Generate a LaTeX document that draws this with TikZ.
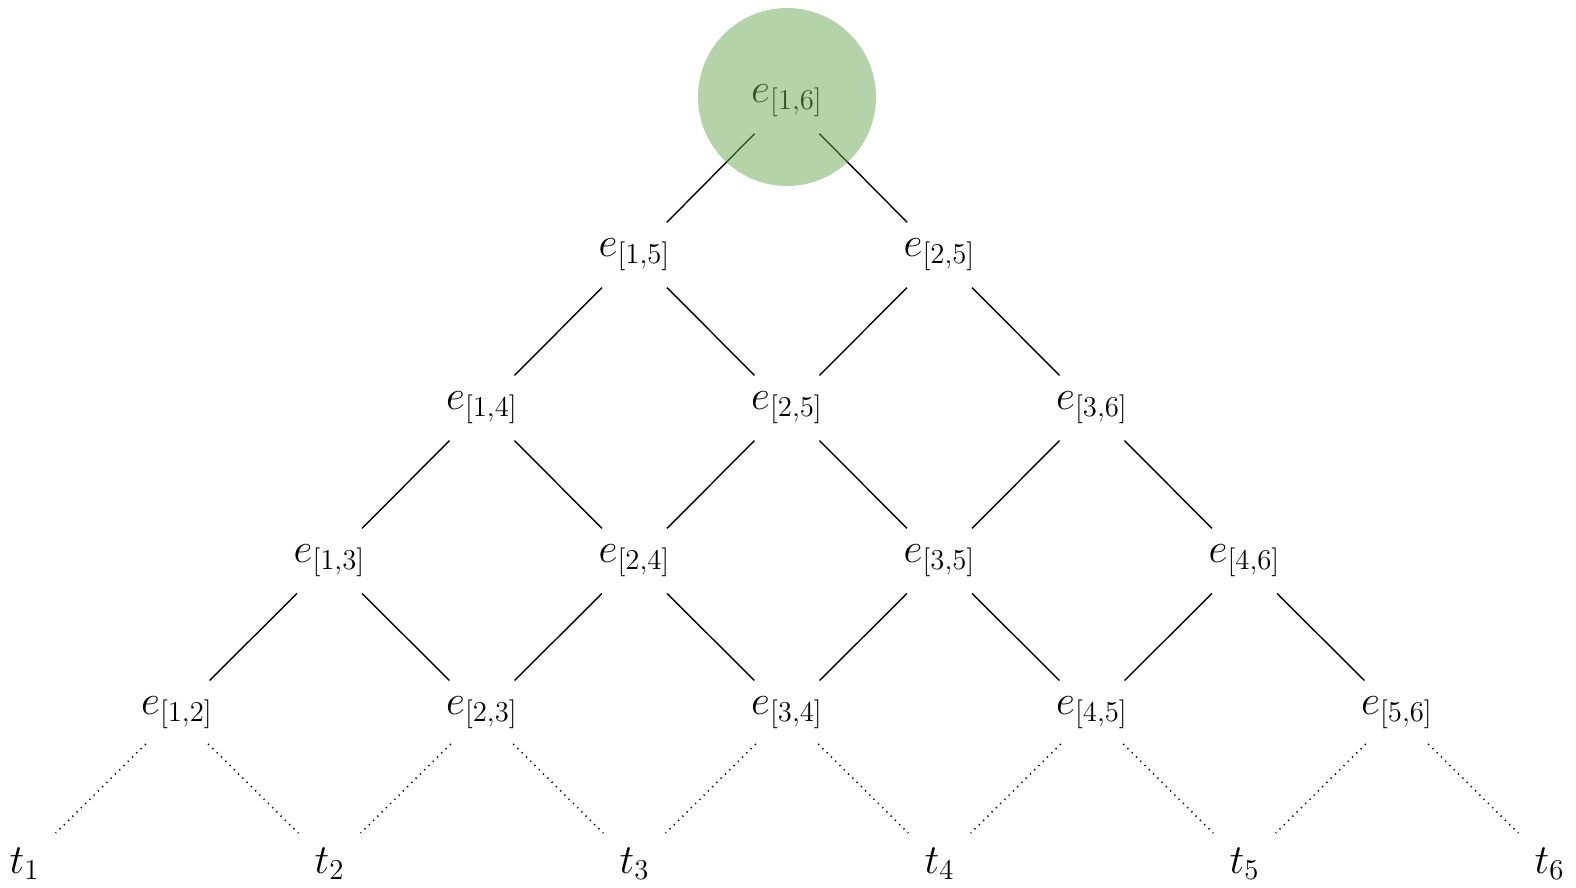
\documentclass[tikz,border=0pt]{standalone}
\begin{document}
\begin{tikzpicture}[x=0.5pt,y=-0.5pt,
  lbl/.style={inner sep=0pt, font=\fontsize{20}{24}\selectfont},
  edge/.style={draw=black, line width=0.7pt, shorten >=23pt, shorten <=23pt},
  leaf/.style={draw=black, line width=0.8pt, dash pattern=on 0.6pt off 2.4pt, shorten >=22pt, shorten <=22pt},
  topcirc/.style={fill={rgb,255:red,105;green,168;blue,82}, fill opacity=0.5, draw=none}]
\useasboundingbox (0,0) rectangle (1576,888);
% row 0
\node[lbl] (e16) at (787,101) {$e_{[1,6]}$};
% row 1
\node[lbl] (e15) at (634.5,255) {$e_{[1,5]}$};
\node[lbl] (e25a) at (939.5,255) {$e_{[2,5]}$};
% row 2
\node[lbl] (e14) at (482,408) {$e_{[1,4]}$};
\node[lbl] (e25) at (787,408) {$e_{[2,5]}$};
\node[lbl] (e36) at (1092,408) {$e_{[3,6]}$};
% row 3
\node[lbl] (e13) at (329.5,561) {$e_{[1,3]}$};
\node[lbl] (e24) at (634.5,561) {$e_{[2,4]}$};
\node[lbl] (e35) at (939.5,561) {$e_{[3,5]}$};
\node[lbl] (e46) at (1244.5,561) {$e_{[4,6]}$};
% row 4
\node[lbl] (e12) at (177,713) {$e_{[1,2]}$};
\node[lbl] (e23) at (482,713) {$e_{[2,3]}$};
\node[lbl] (e34) at (787,713) {$e_{[3,4]}$};
\node[lbl] (e45) at (1092,713) {$e_{[4,5]}$};
\node[lbl] (e56) at (1397,713) {$e_{[5,6]}$};
% leaves
\node[lbl] (t1) at (24.5,864) {$t_1$};
\node[lbl] (t2) at (329.5,864) {$t_2$};
\node[lbl] (t3) at (634.5,864) {$t_3$};
\node[lbl] (t4) at (939.5,864) {$t_4$};
\node[lbl] (t5) at (1244.5,864) {$t_5$};
\node[lbl] (t6) at (1549.5,864) {$t_6$};
% solid edges
\draw[edge] (e16.center) -- (e15.center);
\draw[edge] (e16.center) -- (e25a.center);
\draw[edge] (e15.center) -- (e14.center);
\draw[edge] (e15.center) -- (e25.center);
\draw[edge] (e25a.center) -- (e25.center);
\draw[edge] (e25a.center) -- (e36.center);
\draw[edge] (e14.center) -- (e13.center);
\draw[edge] (e14.center) -- (e24.center);
\draw[edge] (e25.center) -- (e24.center);
\draw[edge] (e25.center) -- (e35.center);
\draw[edge] (e36.center) -- (e35.center);
\draw[edge] (e36.center) -- (e46.center);
\draw[edge] (e13.center) -- (e12.center);
\draw[edge] (e13.center) -- (e23.center);
\draw[edge] (e24.center) -- (e23.center);
\draw[edge] (e24.center) -- (e34.center);
\draw[edge] (e35.center) -- (e34.center);
\draw[edge] (e35.center) -- (e45.center);
\draw[edge] (e46.center) -- (e45.center);
\draw[edge] (e46.center) -- (e56.center);
% dotted edges
\draw[leaf] (e12.center) -- (t1.center);
\draw[leaf] (e12.center) -- (t2.center);
\draw[leaf] (e23.center) -- (t2.center);
\draw[leaf] (e23.center) -- (t3.center);
\draw[leaf] (e34.center) -- (t3.center);
\draw[leaf] (e34.center) -- (t4.center);
\draw[leaf] (e45.center) -- (t4.center);
\draw[leaf] (e45.center) -- (t5.center);
\draw[leaf] (e56.center) -- (t5.center);
\draw[leaf] (e56.center) -- (t6.center);
% highlight circle
\path[topcirc] ([yshift=2pt]e16.center) circle[radius=89];
\end{tikzpicture}
\end{document}
